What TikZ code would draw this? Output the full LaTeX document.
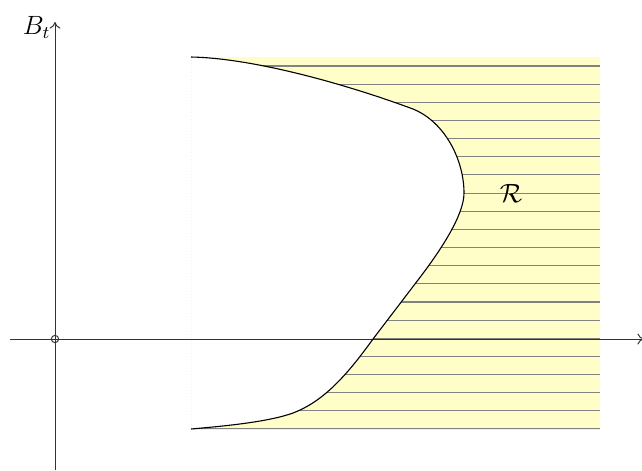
\documentclass[tikz,border=0pt]{standalone}
\usetikzlibrary{arrows.meta}
\definecolor{regfill}{RGB}{255,253,200}
\definecolor{hatch}{RGB}{130,130,130}
\tikzset{
  axis/.style={draw=black!80, line width=0.45pt, -{To[length=3pt,width=5pt]}},
  hatchline/.style={draw=hatch, line width=0.5pt},
  bound/.style={draw=black, line width=0.5pt},
  lbl/.style={font=\large},
}
\newcommand{\bdcurve}{(191,57) .. controls (250,58) and (340,82) .. (413,109)
  .. controls (445,122) and (464,160) .. (464,193)
  .. controls (464,215) and (441,250) .. (418,280)
  -- (373,339)
  .. controls (345,378) and (322,402) .. (293,413)
  .. controls (268,422) and (225,426) .. (191,429)}
\begin{document}
\begin{tikzpicture}[x=0.4545pt,y=-0.4545pt]
\useasboundingbox (0,0) rectangle (642,470);
% region
\fill[regfill] \bdcurve -- (600,429) -- (600,57) -- cycle;
\begin{scope}
  \clip \bdcurve -- (600,429) -- (600,57) -- cycle;
  \foreach \k in {0,...,20} {
    \draw[hatchline] (185,{66+18.15*\k}) -- (600,{66+18.15*\k});
  }
\end{scope}
\draw[draw=yellow!35, densely dotted, line width=0.4pt] (191,57) -- (191,429);
% axes
\coordinate (ybot) at (55,470);
\coordinate (ytop) at (55,22);
\coordinate (xleft) at (10,339);
\coordinate (xright) at (644,339);
\draw[axis] (xleft) -- (xright);
\draw[axis] (ybot) -- (ytop);
\node[lbl, anchor=east, inner sep=1pt] (ylab) at (53,27) {$B_t$};
\node[draw=black!80, circle, line width=0.45pt, minimum size=3.3pt, inner sep=0pt] (origin) at (55,339) {};
% boundary curve
\draw[bound] \bdcurve;
\node[lbl] (R) at (511,193) {$\mathcal{R}$};
\end{tikzpicture}
\end{document}
